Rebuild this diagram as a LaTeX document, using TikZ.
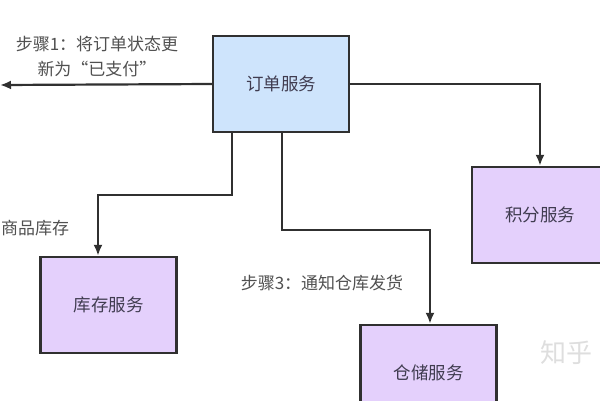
\documentclass[tikz,border=0pt]{standalone}
\usepackage{fontspec}
\setmainfont{Noto Sans CJK SC}
\usetikzlibrary{arrows.meta}
\definecolor{orderblue}{RGB}{206,228,252}
\definecolor{svcpurple}{RGB}{228,208,252}
\definecolor{linegray}{RGB}{48,48,48}
\definecolor{boxtext}{RGB}{64,60,80}
\definecolor{labelgray}{RGB}{80,80,80}
\definecolor{markgray}{RGB}{222,222,222}

\begin{document}
\begin{tikzpicture}[x=1pt, y=-1pt, >={Latex[length=11pt, width=9pt]}, main node/.style={rectangle, draw=linegray, line width=2.4pt, minimum width=136pt, minimum height=96pt, text=boxtext, font=\fontsize{17.5}{20}\selectfont}, order node/.style={main node, fill=orderblue}, store node/.style={main node, fill=svcpurple}, step label/.style={text=labelgray, align=center, inner sep=0pt, font=\fontsize{17}{25}\selectfont}, link/.style={->, draw=linegray, line width=2.2pt}]
\useasboundingbox (0,0) rectangle (600,400);
\node[order node](order) at (281,84){订单服务};
\foreach \s/\t/\x/\y in {stock/库存服务/108.5/305, points/积分服务/540/215, ware/仓储服务/428.5/373}{
    \node[store node] (\s) at (\x,\y) {\t};}
\node[step label](step1) at (97,57){步骤1：将订单状态更\\新为“已支付”};
\node[step label, anchor=west](step2) at (1,228){商品库存};
\node[step label](step3) at (322,283){步骤3：通知仓库发货};
\node[text=markgray, anchor=west, inner sep=0pt, font=\fontsize{26}{30}\selectfont](mark) at (540,353){知乎};
\coordinate (left end) at (0,85);
\draw[link] (order.west) -- (left end);
\draw[link] (order.east) -| (points.north);
\draw[link] ([xshift=-49pt]order.south) -- ++(0,62) -| ([xshift=-10.5pt]stock.north);
\draw[link] ([xshift=1pt]order.south) -- ++(0,97) -| ([xshift=1.5pt]ware.north);
\end{tikzpicture}
\end{document}
